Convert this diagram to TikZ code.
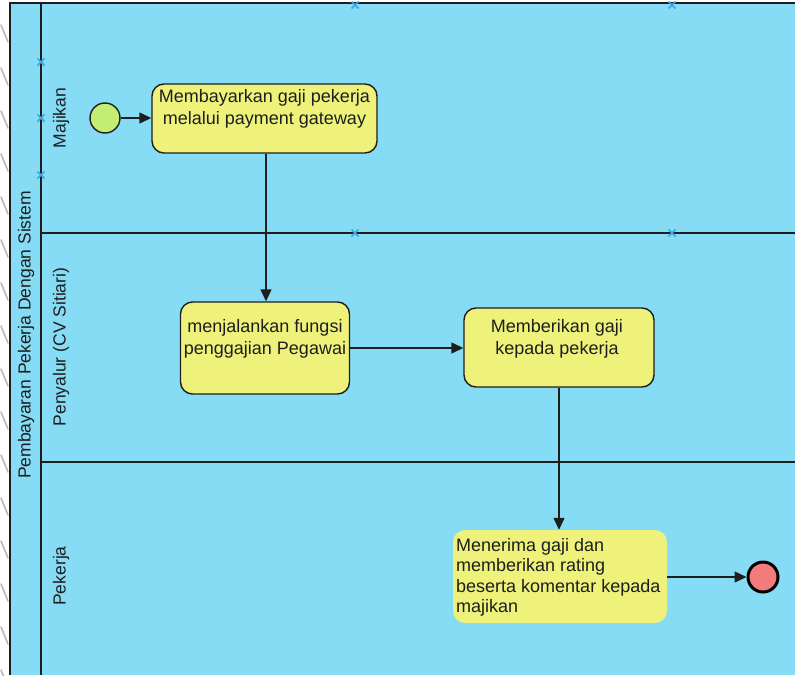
\documentclass[tikz,border=0pt]{standalone}
\usepackage{fontspec}
\setmainfont{Liberation Sans}
\usetikzlibrary{arrows.meta}

\definecolor{poolblue}{HTML}{86DCF4}
\definecolor{taskyellow}{HTML}{EEF27A}
\definecolor{startgreen}{HTML}{C2EE72}
\definecolor{endred}{HTML}{F27C7C}
\definecolor{edgedark}{HTML}{1E1E1E}
\definecolor{handleblue}{HTML}{3AA8E0}

\tikzset{
  lane/.style={draw=edgedark, line width=1.4pt},
  taskbox/.style={draw=edgedark, line width=1.4pt, fill=taskyellow, rounded corners=12pt, inner sep=0pt},
  plainbox/.style={fill=taskyellow, rounded corners=12pt, inner sep=0pt},
  tasktext/.style={inner sep=0pt, align=center, text=edgedark, font=\fontsize{18}{22}\selectfont},
  lanelabel/.style={inner sep=0pt, rotate=90, text=edgedark, font=\fontsize{17.5}{21}\selectfont},
  flow/.style={draw=edgedark, line width=1.4pt, -{Triangle[length=12pt,width=11pt]}},
  handle/.style={draw=handleblue, line width=1.5pt},
  hatch/.style={draw=gray!55, line width=1.6pt, line cap=round}
}

\begin{document}
\begin{tikzpicture}[x=1pt, y=-1pt]
\useasboundingbox (0,0) rectangle (795,675);

% hatched margin on the left
\foreach \yy in {25,68,111,154,197,240,283,326,369,412,455,498,541,584,627,670}{
  \draw[hatch] (1,\yy) -- (8,\yy+17);
}

% pool and lanes
\fill[poolblue] (10,3) rectangle (795,675);
\draw[lane] (795,3) -- (10,3) -- (10,675);
\draw[lane] (41,3) -- (41,675);
\draw[lane] (41,233) -- (795,233);
\draw[lane] (41,462) -- (795,462);

\node[lanelabel] (pool) at (26,335) {Pembayaran Pekerja Dengan Sistem};
\node[lanelabel] (lmaj) at (61,118) {Majikan};
\node[lanelabel] (lpen) at (61,347) {Penyalur (CV Sitiari)};
\node[lanelabel] (lpek) at (61,576) {Pekerja};

% selection handles
\foreach \hx/\hy in {41/62,41/118,41/175,355/5,672/5,355/233,672/233}{
  \draw[handle] (\hx-3.5,\hy-3.5) -- (\hx+3.5,\hy+3.5);
  \draw[handle] (\hx-3.5,\hy+3.5) -- (\hx+3.5,\hy-3.5);
}

% events
\node[circle, draw=edgedark, line width=1.4pt, fill=startgreen, minimum size=30pt, inner sep=0pt] (start) at (105,118) {};
\node[circle, draw=black, line width=3pt, fill=endred, minimum size=30pt, inner sep=0pt] (stop) at (763,577) {};

% tasks
\node[taskbox, minimum width=225pt, minimum height=69pt] (t1) at (264.5,118.5) {};
\node[tasktext, anchor=north] (t1txt) at (264.5,89) {Membayarkan gaji pekerja\\melalui payment gateway};

\node[taskbox, minimum width=169pt, minimum height=92pt] (t2) at (265,348) {};
\node[tasktext, anchor=north] (t2txt) at (265,319) {menjalankan fungsi\\penggajian Pegawai};

\node[taskbox, minimum width=190pt, minimum height=79pt] (t3) at (559,347.5) {};
\node[tasktext, anchor=north] (t3txt) at (557,319) {Memberikan gaji\\kepada pekerja};

\node[plainbox, minimum width=214pt, minimum height=93pt] (t4) at (560,576.5) {};
\node[tasktext, align=left, anchor=north west, font=\fontsize{18}{20.5}\selectfont] (t4txt) at (456,538)
  {Menerima gaji dan\\memberikan rating\\beserta komentar kepada\\majikan};

% sequence flows
\draw[flow] (start.east) -- (t1.west |- start.east);
\draw[flow] (t1.south -| 266,0) -- (t2.north -| 266,0);
\draw[flow] (t2.east |- 0,348) -- (t3.west |- 0,348);
\draw[flow] (t3.south) -- (t4.north -| t3.south);
\draw[flow] (t4.east |- 0,577) -- (stop.west);
\end{tikzpicture}
\end{document}
